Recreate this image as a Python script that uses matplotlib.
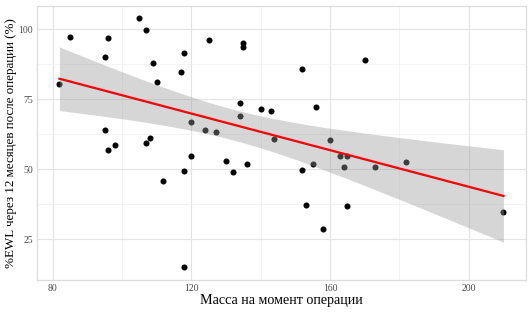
import numpy as np
import matplotlib
matplotlib.use("Agg")
import matplotlib.pyplot as plt

# weight at surgery vs %EWL after 12 months
mass = [82, 85, 96, 95, 105, 107, 109, 110, 118, 117, 125, 135, 135, 134, 134, 120,
        124, 127, 95, 96, 98, 107, 108, 120, 140, 143, 152, 170, 156, 144, 160, 163,
        165, 112, 118, 130, 132, 136, 118, 155, 152, 164, 173, 182, 153, 165, 158, 210]
ewl = [80.3, 97.3, 96.7, 90.0, 103.9, 99.8, 87.8, 81.1, 91.5, 84.8, 96.0, 95.0, 93.7,
       73.8, 68.9, 66.9, 64.1, 63.5, 63.9, 56.9, 58.7, 59.3, 61.1, 54.6, 71.5, 70.9,
       85.9, 89.1, 72.2, 61.0, 60.5, 54.6, 54.9, 45.8, 49.4, 52.9, 49.2, 51.9, 15.1,
       51.9, 49.8, 50.9, 50.9, 52.7, 37.3, 37.1, 28.8, 34.9]
xticks = [80, 120, 160, 200]
yticks = [25, 50, 75, 100]

plt.rcParams['font.family'] = ['Liberation Serif', 'DejaVu Serif']

x = np.array(mass, dtype=float)
y = np.array(ewl, dtype=float)

# linear fit + 95% confidence band (like geom_smooth(method = "lm"))
n = len(x)
b, a = np.polyfit(x, y, 1)
xs = np.linspace(x.min(), x.max(), 80)
ys = a + b * xs
resid = y - (a + b * x)
s = np.sqrt(np.sum(resid**2) / (n - 2))
se = s * np.sqrt(1 / n + (xs - x.mean())**2 / np.sum((x - x.mean())**2))
tq = 2.0129  # t(0.975, df=46)

fig = plt.figure(figsize=(5.32, 3.12), dpi=100)
ax = fig.add_axes([0.07, 0.103, 0.918, 0.879])

ax.scatter(x, y, s=19, color='black', zorder=2, linewidths=0)
ax.fill_between(xs, ys - tq * se, ys + tq * se, color='#999999', alpha=0.4,
                linewidth=0, zorder=3)
ax.plot(xs, ys, color='#ff0000', lw=1.6, zorder=4)

ax.set_xlim(75.6, 216.4)
ax.set_ylim(10.6, 108.4)
ax.set_xticks(xticks)
ax.set_yticks(yticks)
ax.set_xticks([100, 140, 180], minor=True)
ax.set_yticks([37.5, 62.5, 87.5], minor=True)
ax.grid(which='major', color='#e3e3e3', lw=0.8)
ax.grid(which='minor', color='#f0f0f0', lw=0.5)
ax.set_axisbelow(True)
ax.tick_params(which='both', length=0, labelsize=7, labelcolor='#4d4d4d', pad=3)
for sp in ax.spines.values():
    sp.set_color('#dcdcdc')
    sp.set_linewidth(0.9)

ax.set_xlabel('Масса на момент операции', fontsize=10.1, labelpad=1)
ax.set_ylabel('%EWL через 12 месяцев после операции (%)', fontsize=9.4, labelpad=1)

fig.savefig('out.png', dpi=100)
